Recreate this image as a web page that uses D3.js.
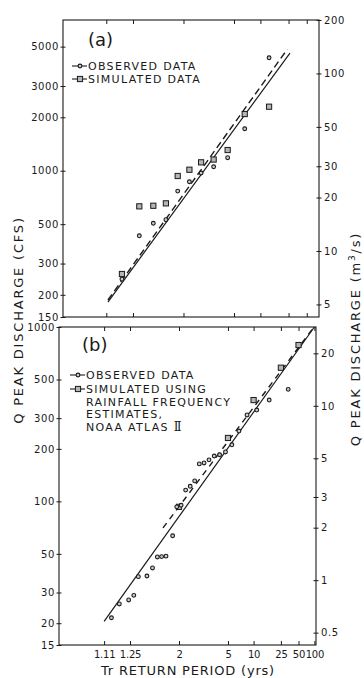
<!DOCTYPE html>
<html>
<head>
<meta charset="utf-8">
<script src="https://cdn.jsdelivr.net/npm/d3@7"></script>
<style>
  body { margin: 0; background: #fff; }
  svg text { font-family: "DejaVu Sans", sans-serif; fill: #1a1a1a; }
</style>
</head>
<body>
<div id="chart"></div>
<script>
const CFS_PER_CMS = 35.3147;

// return period axis
const periodTicks = [1.11, 1.25, 2, 5, 10, 25, 50, 100];
const periodLabels = ["1.11", "1.25", "2", "5", "10", "25", "50", "100"];

// panel (a)
const aPeriods = [13, 6.5, 4.33, 3.25, 2.6, 2.17, 1.857, 1.625, 1.444, 1.3, 1.18];
const aObserved = [4330, 1724, 1184, 1053, 971, 867, 768, 530, 506, 430, 245];
const aSimulated = [2294, 2086, 1308, 1156, 1115, 1013, 934, 655, 635, 630, 262];
const aFitObserved = [[1.116, 182], [26.3, 4600]];
const aFitSimulated = [[1.116, 187], [23.9, 4830]];
const aLeftTicks = [5000, 3000, 2000, 1000, 500, 300, 200, 150];
const aRightTicks = [200, 100, 50, 30, 20, 10, 5];

// panel (b)
const bObsPeriods = [33, 16.5, 11, 8.25, 6.6, 5.5, 4.71, 4.12, 3.67, 3.3, 3.0, 2.75, 2.54, 2.36,
  2.2, 2.06, 1.94, 1.84, 1.70, 1.62, 1.55, 1.48, 1.41, 1.32, 1.28, 1.24, 1.18, 1.14];
const bObserved = [439, 381, 334, 313, 253, 211, 192, 185, 182, 173, 166, 164, 131, 122,
  116, 95, 93, 63.5, 48.5, 48.2, 48, 41.5, 37.3, 37, 28.9, 27.2, 25.8, 21.5];
const bSimPeriods = [2, 5, 10, 25, 50];
const bSimulated = [93, 231, 381, 584, 788];
const bFitObserved = [[1.11, 20.5], [100, 1000]];
const bFitSimulated = [[1.644, 70.4], [98, 1000]];
const bLeftTicks = [1000, 500, 300, 200, 100, 50, 30, 20, 15];
const bRightTicks = [20, 10, 5, 3, 2, 1, 0.5];

// inverse normal cdf (Acklam)
function probit(p) {
  const a = [-39.69683028665376, 220.9460984245205, -275.9285104469687, 138.3577518672690, -30.66479806614716, 2.506628277459239];
  const b = [-54.47609879822406, 161.5858368580409, -155.6989798598866, 66.80131188771972, -13.28068155288572];
  const c = [-0.007784894002430293, -0.3223964580411365, -2.400758277161838, -2.549732539343734, 4.374664141464968, 2.938163982698783];
  const d = [0.007784695709041462, 0.3224671290700398, 2.445134137142996, 3.754408661907416];
  const pl = 0.02425;
  let q, r;
  if (p < pl) {
    q = Math.sqrt(-2 * Math.log(p));
    return (((((c[0] * q + c[1]) * q + c[2]) * q + c[3]) * q + c[4]) * q + c[5]) /
      ((((d[0] * q + d[1]) * q + d[2]) * q + d[3]) * q + 1);
  }
  if (p > 1 - pl) {
    q = Math.sqrt(-2 * Math.log(1 - p));
    return -(((((c[0] * q + c[1]) * q + c[2]) * q + c[3]) * q + c[4]) * q + c[5]) /
      ((((d[0] * q + d[1]) * q + d[2]) * q + d[3]) * q + 1);
  }
  q = p - 0.5;
  r = q * q;
  return (((((a[0] * r + a[1]) * r + a[2]) * r + a[3]) * r + a[4]) * r + a[5]) * q /
    (((((b[0] * r + b[1]) * r + b[2]) * r + b[3]) * r + b[4]) * r + 1);
}
const zOf = T => probit(1 - 1 / T);

const svg = d3.select("#chart")
  .append("svg")
  .attr("width", 364)
  .attr("height", 678);

const INK = "#1a1a1a";

function circleMark(sel, cx, cy) {
  sel.append("circle")
    .attr("cx", cx).attr("cy", cy).attr("r", 1.9)
    .attr("fill", "#ccc").attr("stroke", INK).attr("stroke-width", 1.1);
}

function squareMark(sel, cx, cy) {
  sel.append("rect")
    .attr("x", cx - 2.6).attr("y", cy - 2.6).attr("width", 5.2).attr("height", 5.2)
    .attr("fill", "#b5b5b5").attr("stroke", INK).attr("stroke-width", 1);
}

function drawPanel(cfg) {
  const [x0, x1] = cfg.xRange;
  const [y1, y0] = cfg.yRange; // bottom, top
  const g = svg.append("g").attr("color", INK);

  const x = d3.scaleLinear().domain(cfg.zDomain).range(cfg.xRange);
  const y = d3.scaleLog().domain(cfg.qDomain).range(cfg.yRange);
  const y2 = d3.scaleLog()
    .domain(cfg.qDomain.map(q => q / CFS_PER_CMS))
    .range(cfg.yRange);
  const px = T => x(zOf(T));

  // frame
  g.append("rect")
    .attr("x", x0).attr("y", y0)
    .attr("width", x1 - x0).attr("height", y1 - y0)
    .attr("fill", "none").attr("stroke", INK).attr("stroke-width", 1.1);

  const inner = periodTicks.filter(T => zOf(T) < cfg.zDomain[1] - 0.02);

  // top ticks
  g.append("g")
    .attr("transform", `translate(0,${y0})`)
    .call(d3.axisTop(x).tickValues(inner.map(zOf)).tickFormat("").tickSize(-4))
    .call(a => a.select(".domain").remove());

  // bottom ticks (+ labels on lower panel)
  const bottom = g.append("g")
    .attr("transform", `translate(0,${y1})`)
    .attr("font-size", 10.5)
    .call(d3.axisBottom(x)
      .tickValues(cfg.showXLabels ? periodTicks.map(zOf) : inner.map(zOf))
      .tickFormat(cfg.showXLabels ? (d, i) => periodLabels[i] : "")
      .tickSize(-4)
      .tickPadding(6))
    .call(a => a.select(".domain").remove());
  bottom.selectAll(".tick")
    .filter(d => d > cfg.zDomain[1] - 0.02)
    .select("line").remove();
  bottom.selectAll("text").style("letter-spacing", "-0.2px");

  // left axis (cfs)
  g.append("g")
    .attr("transform", `translate(${x0},0)`)
    .attr("font-size", 11)
    .call(d3.axisLeft(y).tickValues(cfg.leftTicks).tickFormat(d3.format("d")).tickSize(2.5).tickPadding(1.5))
    .call(a => a.select(".domain").remove())
    .call(a => a.selectAll(".tick line").attr("x1", 2.5))
    .call(a => a.selectAll("text").style("letter-spacing", "0.6px"));

  // right axis (m3/s)
  g.append("g")
    .attr("transform", `translate(${x1},0)`)
    .attr("font-size", 11)
    .call(d3.axisRight(y2).tickValues(cfg.rightTicks).tickFormat(d => String(d)).tickSize(2.5).tickPadding(2.5))
    .call(a => a.select(".domain").remove())
    .call(a => a.selectAll(".tick line").attr("x1", -2.5))
    .call(a => a.selectAll("text").style("letter-spacing", "0.6px"));

  // fitted lines
  const line = d3.line().x(d => px(d[0])).y(d => y(d[1]));
  g.append("path")
    .datum(cfg.fitObserved)
    .attr("d", line)
    .attr("fill", "none").attr("stroke", INK).attr("stroke-width", 1.2);
  g.append("path")
    .datum(cfg.fitSimulated)
    .attr("d", line)
    .attr("fill", "none").attr("stroke", INK).attr("stroke-width", 1.4)
    .attr("stroke-dasharray", cfg.dash);

  // points
  const pts = g.append("g");
  cfg.simPeriods.forEach((T, i) => squareMark(pts, px(T), y(cfg.simulated[i])));
  cfg.obsPeriods.forEach((T, i) => circleMark(pts, px(T), y(cfg.observed[i])));

  // panel tag
  g.append("text")
    .attr("x", cfg.tag[1]).attr("y", cfg.tag[2])
    .attr("font-size", 18)
    .text(cfg.tag[0]);

  // legend
  const lg = g.append("g").attr("font-size", 11);
  cfg.legend.forEach((row, i) => {
    const by = cfg.legendY[i];
    if (row.mark) {
      lg.append("line")
        .attr("x1", cfg.legendX - 16).attr("x2", cfg.legendX - 1)
        .attr("y1", by - 4).attr("y2", by - 4)
        .attr("stroke", INK).attr("stroke-width", 1.1);
      if (row.mark === "circle") circleMark(lg, cfg.legendX - 8, by - 4);
      else squareMark(lg, cfg.legendX - 8, by - 4);
    }
    const t = lg.append("text")
      .attr("x", cfg.legendX).attr("y", by)
      .style("letter-spacing", "1.3px")
      .text(row.text);
    if (row.roman) {
      t.append("tspan")
        .style("font-family", "'DejaVu Serif', serif")
        .attr("font-size", 12)
        .style("letter-spacing", "-1.5px")
        .text(row.roman);
    }
  });
}

drawPanel({
  xRange: [63, 319],
  yRange: [317, 20],
  zDomain: [-2.008, 2.258],
  qDomain: [150, 200 * CFS_PER_CMS],
  leftTicks: aLeftTicks,
  rightTicks: aRightTicks,
  obsPeriods: aPeriods,
  observed: aObserved,
  simPeriods: aPeriods,
  simulated: aSimulated,
  fitObserved: aFitObserved,
  fitSimulated: aFitSimulated,
  dash: "7,4",
  showXLabels: false,
  tag: ["(a)", 88, 46],
  legendX: 88,
  legendY: [70, 83],
  legend: [
    { mark: "circle", text: "OBSERVED DATA" },
    { mark: "square", text: "SIMULATED DATA" }
  ]
});

drawPanel({
  xRange: [59, 316],
  yRange: [645, 327],
  zDomain: [-2.062, 2.354],
  qDomain: [15, 1000],
  leftTicks: bLeftTicks,
  rightTicks: bRightTicks,
  obsPeriods: bObsPeriods,
  observed: bObserved,
  simPeriods: bSimPeriods,
  simulated: bSimulated,
  fitObserved: bFitObserved,
  fitSimulated: bFitSimulated,
  dash: "6,5",
  showXLabels: true,
  tag: ["(b)", 82, 351],
  legendX: 86,
  legendY: [379, 393, 406, 418, 431],
  legend: [
    { mark: "circle", text: "OBSERVED DATA" },
    { mark: "square", text: "SIMULATED USING" },
    { text: "RAINFALL FREQUENCY" },
    { text: "ESTIMATES," },
    { text: "NOAA ATLAS ", roman: "II" }
  ]
});

// axis titles
svg.append("text")
  .attr("transform", "translate(23,320) rotate(-90)")
  .attr("text-anchor", "middle")
  .attr("font-size", 13)
  .style("letter-spacing", "1.8px")
  .text("Q PEAK DISCHARGE (CFS)");

const rt = svg.append("text")
  .attr("transform", "translate(360,339) rotate(-90)")
  .attr("text-anchor", "middle")
  .attr("font-size", 13)
  .style("letter-spacing", "1.8px");
rt.append("tspan").text("Q PEAK DISCHARGE (m");
rt.append("tspan").attr("dy", -5).attr("font-size", 9).text("3");
rt.append("tspan").attr("dy", 5).text("/s)");

svg.append("text")
  .attr("x", 188).attr("y", 675)
  .attr("text-anchor", "middle")
  .attr("font-size", 13)
  .style("letter-spacing", "0.8px")
  .text("Tr RETURN PERIOD (yrs)");
</script>
</body>
</html>
